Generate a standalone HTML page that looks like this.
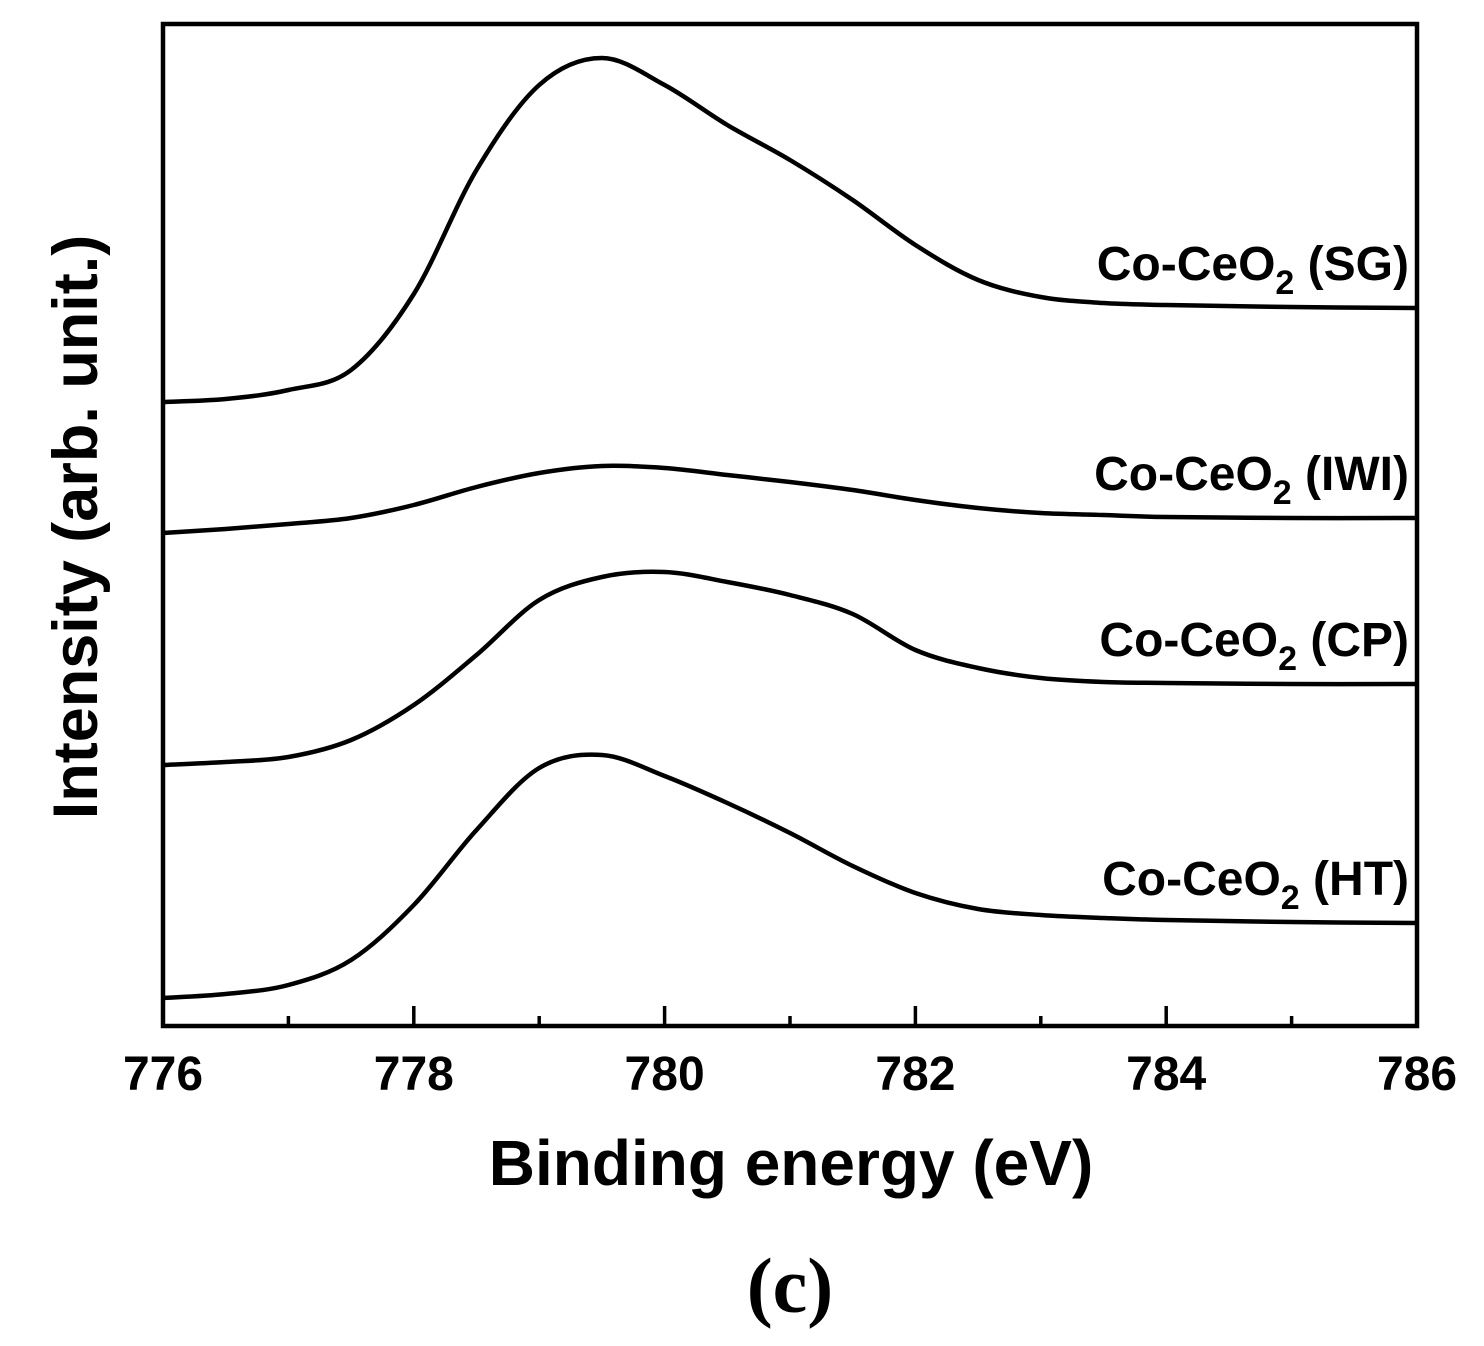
<!DOCTYPE html>
<html><head><meta charset="utf-8"><style>
html,body{margin:0;padding:0;background:#fff;}
svg{display:block;font-family:"Liberation Sans",Arial,sans-serif;}
</style></head><body>
<svg id="chart" width="1484" height="1346" viewBox="0 0 1484 1346">
<g id="plot"></g>
</svg>
<script>
const energies=[776,776.5,777,777.5,778,778.5,779,779.5,780,780.5,781,781.5,782,782.5,783,783.5,784,785,786];
const seriesSG=[624,627,636,656,732,856,941,968,941,901,866,826,781,746,729,723,721,719,718];
const seriesIWI=[493,497,502,508,521,539,553,560,558,551,544,536,526,518,513,511,509,508,508];
const seriesCP=[261,264,269,286,321,371,426,449,454,444,431,412,376,358,348,344,343,342,342];
const seriesHT=[28,32,41,66,121,196,258,271,250,223,193,160,133,117,111,108,106,104,103];
const seriesNames=["SG","IWI","CP","HT"];
const xTicks=[776,778,780,782,784,786];
const L=163,R=1417,T=24,B=1026;
const xMin=776,xMax=786,yMin=0,yMax=1002;
const sx=v=>L+(v-xMin)/(xMax-xMin)*(R-L);
const sy=v=>B-(v-yMin)/(yMax-yMin)*(B-T);
const NS="http://www.w3.org/2000/svg";
const g=document.getElementById('plot');
function mk(t,a){const e=document.createElementNS(NS,t);for(const k in a)e.setAttribute(k,a[k]);g.appendChild(e);return e;}
const fr=mk('rect',{x:L,y:T,width:R-L,height:B-T,fill:'none',stroke:'#000','stroke-width':4.5});


for(let v=xMin;v<=xMax;v+=1){
  const major=(v%2===0);
  const t=mk('line',{x1:sx(v),x2:sx(v),y1:B,y2:B-(major?20:10),stroke:'#000','stroke-width':3.5});
  
  
}
xTicks.forEach(v=>{
  const t=mk('text',{x:sx(v),y:1090,'text-anchor':'middle','font-size':48,'font-weight':'bold'});
  t.textContent=v;
  
  
});
function path(vals){
  const p=energies.map((e,i)=>[sx(e),sy(vals[i])]);
  let d=`M${p[0][0]},${p[0][1]}`;
  for(let i=0;i<p.length-1;i++){
    const p0=p[Math.max(0,i-1)],p1=p[i],p2=p[i+1],p3=p[Math.min(p.length-1,i+2)];
    const c1=[p1[0]+(p2[0]-p0[0])/6,p1[1]+(p2[1]-p0[1])/6];
    const c2=[p2[0]-(p3[0]-p1[0])/6,p2[1]-(p3[1]-p1[1])/6];
    d+=`C${c1[0]},${c1[1]} ${c2[0]},${c2[1]} ${p2[0]},${p2[1]}`;
  }
  return d;
}
[seriesSG,seriesIWI,seriesCP,seriesHT].forEach((s,i)=>{
  const pl=mk('path',{d:path(s),fill:'none',stroke:'#000','stroke-width':4.5,'stroke-linejoin':'round'});
  
  
  const last=s[s.length-1];
  const t=mk('text',{x:1409,y:sy(last)-28,'text-anchor':'end','font-size':48,'font-weight':'bold'});
  t.innerHTML=`Co-CeO<tspan dy="14" font-size="34">2</tspan><tspan dy="-14"> (${seriesNames[i]})</tspan>`;
  
  
});
const xt=mk('text',{x:791,y:1185,'text-anchor':'middle','font-size':64,'font-weight':'bold'});
xt.textContent='Binding energy (eV)';


const yt=mk('text',{x:0,y:0,'text-anchor':'middle','font-size':63,'font-weight':'bold',transform:'translate(97,527) rotate(-90)'});
yt.textContent='Intensity (arb. unit.)';


const pc=mk('text',{x:790,y:1312,'text-anchor':'middle','font-size':78,'font-weight':'bold','font-family':'"Liberation Serif",serif'});
pc.textContent='(c)';


</script>
</body></html>
